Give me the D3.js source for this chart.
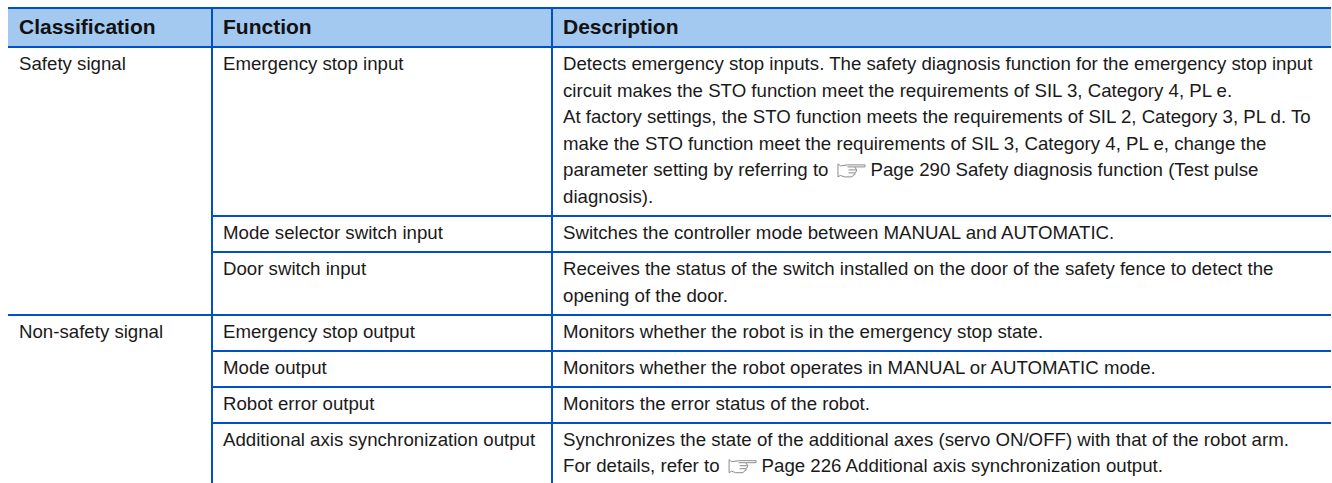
<!DOCTYPE html>
<html lang="en">
<head>
    <meta charset="UTF-8">
    <title>Safety signal functions</title>
    <style>
        body { margin: 0; background: #fff; overflow: hidden; }
        svg { display: block; }
        text { font-family: "Liberation Sans", Arial, sans-serif; fill: #1a1a1a; }
        .head { font-size: 21px; font-weight: bold; fill: #111; }
        .cell { font-size: 18.67px; }
        .rule { stroke: #0050c8; stroke-width: 2; }
        .hand { fill: #fff; stroke: #8a8a8a; stroke-width: 1; }
    </style>
</head>
<body>
    <div id="table"></div>

    <script src="https://d3js.org/d3.v7.min.js"></script>
    <script>
// Table content, one array per column. "@" marks where the page reference icon sits
const columns = ["Classification", "Function", "Description"];
const classifications = ["Safety signal", "", "", "Non-safety signal", "", "", ""];
const functions = [
    "Emergency stop input",
    "Mode selector switch input",
    "Door switch input",
    "Emergency stop output",
    "Mode output",
    "Robot error output",
    "Additional axis synchronization output"
];
const descriptions = [
    [
        "Detects emergency stop inputs. The safety diagnosis function for the emergency stop input",
        "circuit makes the STO function meet the requirements of SIL 3, Category 4, PL e.",
        "At factory settings, the STO function meets the requirements of SIL 2, Category 3, PL d. To",
        "make the STO function meet the requirements of SIL 3, Category 4, PL e, change the",
        "parameter setting by referring to @Page 290 Safety diagnosis function (Test pulse",
        "diagnosis)."
    ],
    ["Switches the controller mode between MANUAL and AUTOMATIC."],
    [
        "Receives the status of the switch installed on the door of the safety fence to detect the",
        "opening of the door."
    ],
    ["Monitors whether the robot is in the emergency stop state."],
    ["Monitors whether the robot operates in MANUAL or AUTOMATIC mode."],
    ["Monitors the error status of the robot."],
    [
        "Synchronizes the state of the additional axes (servo ON/OFF) with that of the robot arm.",
        "For details, refer to @Page 226 Additional axis synchronization output."
    ]
];

const width = 1332, height = 483;
const left = 8, right = 1331, headTop = 8, headBottom = 47;
const lineStep = 26.6, rowPad = 36;

const svg = d3.select("#table").append("svg")
    .attr("width", width)
    .attr("height", height);

// Column positions
const x = d3.scaleOrdinal().domain(columns).range([left, 212, 552]);
const textX = c => x(c) + 11;

// Row tops come from the number of text lines in each row
const rowTops = [headBottom];
descriptions.forEach(d => rowTops.push(rowTops[rowTops.length - 1] + rowPad + (d.length - 1) * lineStep));

// Header band
svg.append("rect")
    .attr("x", left).attr("y", headTop)
    .attr("width", right - left).attr("height", headBottom - headTop)
    .attr("fill", "#a3c9f0");

svg.selectAll(".head")
    .data(columns)
    .enter().append("text")
    .attr("class", "head")
    .attr("x", textX)
    .attr("y", 34)
    .text(d => d);

// Rules. The classification column only gets a rule where a new group starts
const rules = svg.append("g");
rules.append("line").attr("class", "rule")
    .attr("x1", left).attr("x2", right).attr("y1", headTop).attr("y2", headTop);
rowTops.forEach((top, i) => {
    const y = Math.round(top);
    const startsGroup = i === 0 || classifications[i] !== "";
    if (i < classifications.length) {
        rules.append("line").attr("class", "rule")
            .attr("x1", startsGroup ? left : x(columns[1])).attr("x2", right)
            .attr("y1", y).attr("y2", y);
    }
});
[columns[1], columns[2]].forEach(c => {
    rules.append("line").attr("class", "rule")
        .attr("x1", x(c)).attr("x2", x(c))
        .attr("y1", headTop).attr("y2", height);
});

// Outline pointing hand used in front of page references
function drawHand(px, baseline) {
    const hand = svg.append("g").attr("transform", `translate(${px},${baseline - 13})`);
    hand.append("path").attr("class", "hand")
        .attr("d", "M0.5,0.5 L3,2.5 L10,1.5 L27.5,1.5 L27.5,3.5 L17,3.5 L19,6 L19,8 L17.5,9 L17.5,11 L15.5,12 L14.5,13.5 L7,13.5 L3,12 L0.5,13.5 Z");
    hand.append("path").attr("class", "hand").attr("fill", "none")
        .attr("d", "M10,3.5 L17,3.5 M11,6.5 L19,6.5 M11,9.5 L17.5,9.5");
}

// Body cells
descriptions.forEach((lines, i) => {
    const base = rowTops[i] + 23;
    if (classifications[i]) {
        svg.append("text").attr("class", "cell")
            .attr("x", textX(columns[0])).attr("y", base).text(classifications[i]);
    }
    svg.append("text").attr("class", "cell")
        .attr("x", textX(columns[1])).attr("y", base).text(functions[i]);

    lines.forEach((line, j) => {
        const y = base + j * lineStep;
        const parts = line.split("@");
        const first = svg.append("text").attr("class", "cell")
            .attr("x", textX(columns[2])).attr("y", y).text(parts[0]);
        if (parts.length > 1) {
            const after = textX(columns[2]) + first.node().getComputedTextLength();
            drawHand(after + 9, y);
            svg.append("text").attr("class", "cell")
                .attr("x", after + 42).attr("y", y).text(parts[1]);
        }
    });
});
    </script>
</body>
</html>
